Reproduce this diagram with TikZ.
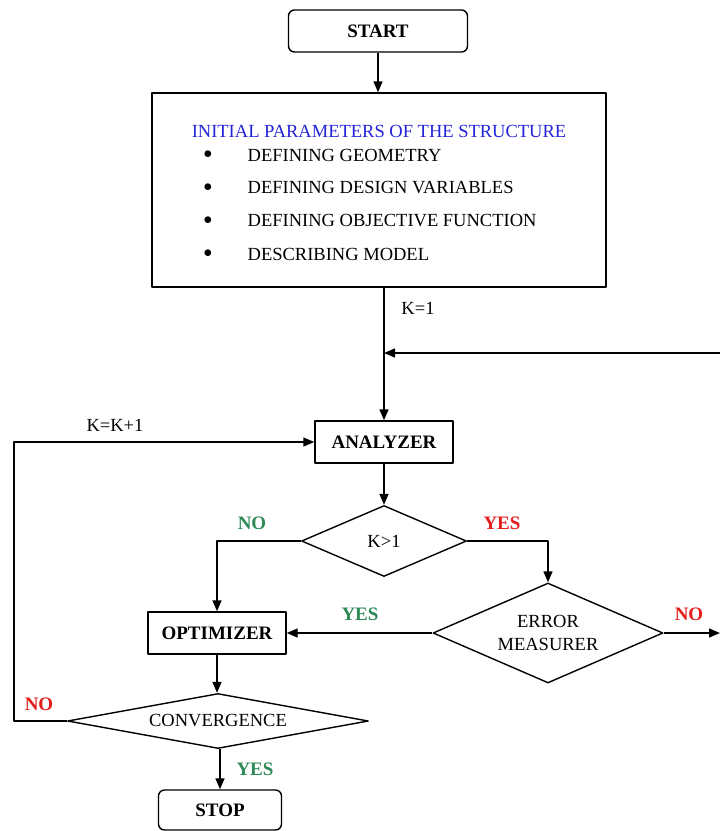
\documentclass[tikz,border=0pt]{standalone}
\usepackage{fontspec}
\setmainfont{Liberation Serif}
\usetikzlibrary{shapes.geometric,arrows.meta}
\definecolor{lgreen}{RGB}{46,139,87}
\definecolor{lred}{RGB}{228,28,28}
\definecolor{tblue}{RGB}{35,35,215}
\tikzset{
 proc/.style={draw,line width=1.4pt,minimum width=138pt,minimum height=42pt,font=\fontsize{19}{22}\selectfont\bfseries},
 term/.style={proc,rounded corners=6pt},
 test/.style={draw,diamond,line width=1.4pt,inner sep=0pt,align=center},
 glab/.style={text=lgreen,font=\fontsize{19}{22}\selectfont\bfseries},
 rlab/.style={text=lred,font=\fontsize{19}{22}\selectfont\bfseries},
 item/.style={anchor=west,inner sep=0pt}
}
\begin{document}
\begin{tikzpicture}[x=1pt,y=-1pt,line width=1.4pt,line join=round,>={Triangle[length=11pt,width=9pt]},font=\fontsize{18.5}{23}\selectfont]
 \useasboundingbox (0,0) rectangle (720,831);
 \node[term,minimum width=179pt] (start) at (378,31) {START};
 \node[draw,minimum width=454pt,minimum height=194pt] (params) at (379,190) {};
 \node[text=tblue] (title) at (379,131) {INITIAL PARAMETERS OF THE STRUCTURE};
 \path
 (208,155) node (d1) {$\bullet$} (247,155) node[item] (geo) {DEFINING GEOMETRY}
 (208,188) node (d2) {$\bullet$} (247,188) node[item] (var) {DEFINING DESIGN VARIABLES}
 (208,221) node (d3) {$\bullet$} (247,221) node[item] (obj) {DEFINING OBJECTIVE FUNCTION}
 (208,254) node (d4) {$\bullet$} (247,254) node[item] (mod) {DESCRIBING MODEL};
 \node[proc] (analyzer) at (384,442) {ANALYZER};
 \node[test,aspect=2.3,minimum width=165pt,minimum height=71pt] (k) at (384,541) {K>1};
 \node[test,aspect=2.3,minimum width=230pt,minimum height=100pt] (err) at (548,633) {ERROR\\MEASURER};
 \node[proc] (opt) at (217,633) {OPTIMIZER};
 \node[test,aspect=5.4,minimum width=301pt,minimum height=55pt] (conv) at (218,721) {CONVERGENCE};
 \node[term,minimum width=123pt,minimum height=40pt] (stop) at (220,810) {STOP};
 \coordinate (back) at (720,353);
 \coordinate (out) at (720,633);
 \coordinate (loop) at (14,442);
 \draw[->] (start) -- (start |- params.north);
 \draw[->] (params.south -| analyzer.north) -- (analyzer.north);
 \draw[->] (back) -- (back -| analyzer);
 \draw[->] (analyzer) -- (k);
 \draw[->] (k.west) -| (opt.north);
 \draw[->] (k.east) -| (err.north);
 \draw[->] (err.west) -- (opt.east);
 \draw[->] (err.east) -- (out);
 \draw[->] (opt) -- (opt |- conv.north);
 \draw[->] (conv.west) -| (loop) -- (analyzer.west);
 \draw[->] (conv.south -| stop) -- (stop);
 \path
 (418,308) node (k1) {K=1}
 (115,425) node (kk) {K=K+1}
 (252,523) node[glab] (kno) {NO}
 (502,523) node[rlab] (kyes) {YES}
 (360,614) node[glab] (eyes) {YES}
 (689,614) node[rlab] (eno) {NO}
 (39,704) node[rlab] (cno) {NO}
 (255,769) node[glab] (cyes) {YES};
\end{tikzpicture}
\end{document}
